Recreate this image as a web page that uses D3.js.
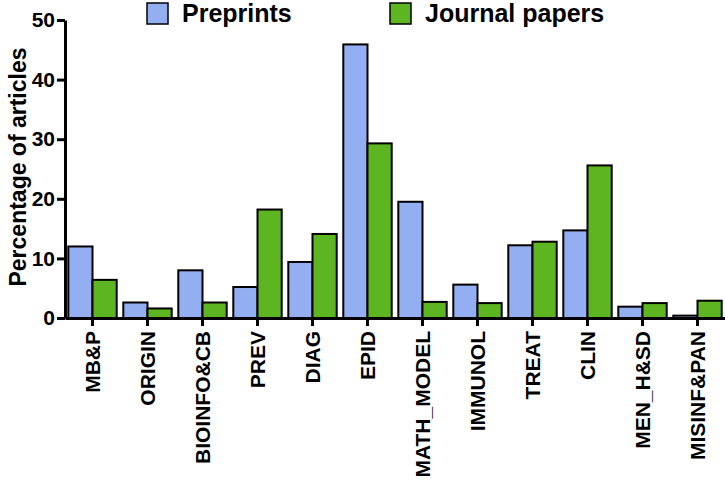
<!DOCTYPE html>
<html>
<head>
<meta charset="utf-8">
<script src="https://cdn.jsdelivr.net/npm/d3@7"></script>
<style>
    body { margin: 0; background: #fff; }
    svg { display: block; }
</style>
</head>
<body>
<svg id="bar" width="725" height="483"></svg>
<script>
var categories = ["MB&P", "ORIGIN", "BIOINFO&CB", "PREV", "DIAG", "EPID",
    "MATH_MODEL", "IMMUNOL", "TREAT", "CLIN", "MEN_H&SD", "MISINF&PAN"];
var preprints = [12.0, 2.6, 8.0, 5.2, 9.4, 45.9, 19.5, 5.6, 12.2, 14.7, 1.9, 0.4];
var journalPapers = [6.4, 1.6, 2.6, 18.2, 14.1, 29.3, 2.7, 2.5, 12.8, 25.6, 2.5, 2.9];
var seriesNames = ["Preprints", "Journal papers"];
var yTicks = [0, 10, 20, 30, 40, 50];

var font = "'Liberation Sans', Arial, Helvetica, sans-serif";

function drawBar() {
    var svg = d3.select("svg#bar");
    var x0Left = 65, x0Right = 725, yTop = 20, yBottom = 318;

    var data = categories.map(function(c, i) {
        return { cat: c, values: [preprints[i], journalPapers[i]] };
    });

    var x0 = d3
        .scaleBand()
        .domain(categories)
        .range([x0Left, x0Right])
        .paddingInner(0.12)
        .paddingOuter(0.06);
    var x1 = d3
        .scaleBand()
        .domain(seriesNames)
        .range([0, x0.bandwidth()]);
    var y = d3.scaleLinear().domain([0, 50]).range([yBottom, yTop]);
    var z = d3.scaleOrdinal().domain(seriesNames).range(["#94aef2", "#5cb521"]);

    // bars
    svg.append("g")
        .selectAll("g")
        .data(data)
        .enter()
        .append("g")
        .attr("transform", d => "translate(" + x0(d.cat) + ",0)")
        .selectAll("rect")
        .data(d => seriesNames.map((k, j) => ({ key: k, value: d.values[j] })))
        .enter()
        .append("rect")
        .attr("x", d => x1(d.key))
        .attr("y", d => y(d.value))
        .attr("width", x1.bandwidth())
        .attr("height", d => y(0) - y(d.value))
        .attr("fill", d => z(d.key))
        .attr("stroke", "#000")
        .attr("stroke-width", 2);

    // y axis
    var yAxis = svg.append("g")
        .attr("transform", "translate(" + x0Left + ",0)")
        .call(d3.axisLeft(y).tickValues(yTicks).tickSize(8).tickSizeOuter(0).tickPadding(2));
    yAxis.select(".domain").attr("stroke-width", 3);
    yAxis.selectAll(".tick line").attr("stroke-width", 3);
    yAxis.selectAll("text")
        .attr("font-family", font)
        .attr("font-weight", "bold")
        .attr("font-size", "21px")
        .attr("fill", "#000");

    // x axis
    var xAxis = svg.append("g")
        .attr("transform", "translate(0," + yBottom + ")")
        .call(d3.axisBottom(x0).tickSize(8).tickSizeOuter(0));
    xAxis.select(".domain").attr("stroke-width", 3);
    xAxis.selectAll(".tick line").attr("stroke-width", 3);
    xAxis.selectAll("text")
        .attr("transform", "rotate(-90)")
        .attr("text-anchor", "end")
        .attr("x", -13)
        .attr("y", 0)
        .attr("dy", "0.36em")
        .attr("font-family", font)
        .attr("font-weight", "bold")
        .attr("font-size", "21px")
        .attr("fill", "#000");

    // y title
    svg.append("text")
        .attr("transform", "translate(26,167) rotate(-90)")
        .attr("text-anchor", "middle")
        .attr("font-family", font)
        .attr("font-weight", "bold")
        .attr("font-size", "23px")
        .attr("fill", "#000")
        .text("Percentage of articles");

    // legend
    var legendX = [147, 390];
    var legend = svg.append("g")
        .selectAll("g")
        .data(seriesNames)
        .enter()
        .append("g")
        .attr("transform", (d, i) => "translate(" + legendX[i] + ",3)");

    legend.append("rect")
        .attr("width", 21)
        .attr("height", 21)
        .attr("fill", z)
        .attr("stroke", "#000")
        .attr("stroke-width", 1.5);

    legend.append("text")
        .attr("x", 35)
        .attr("y", 19)
        .attr("font-family", font)
        .attr("font-weight", "bold")
        .attr("font-size", "25px")
        .attr("fill", "#000")
        .text(d => d);
}

drawBar();
</script>
</body>
</html>
